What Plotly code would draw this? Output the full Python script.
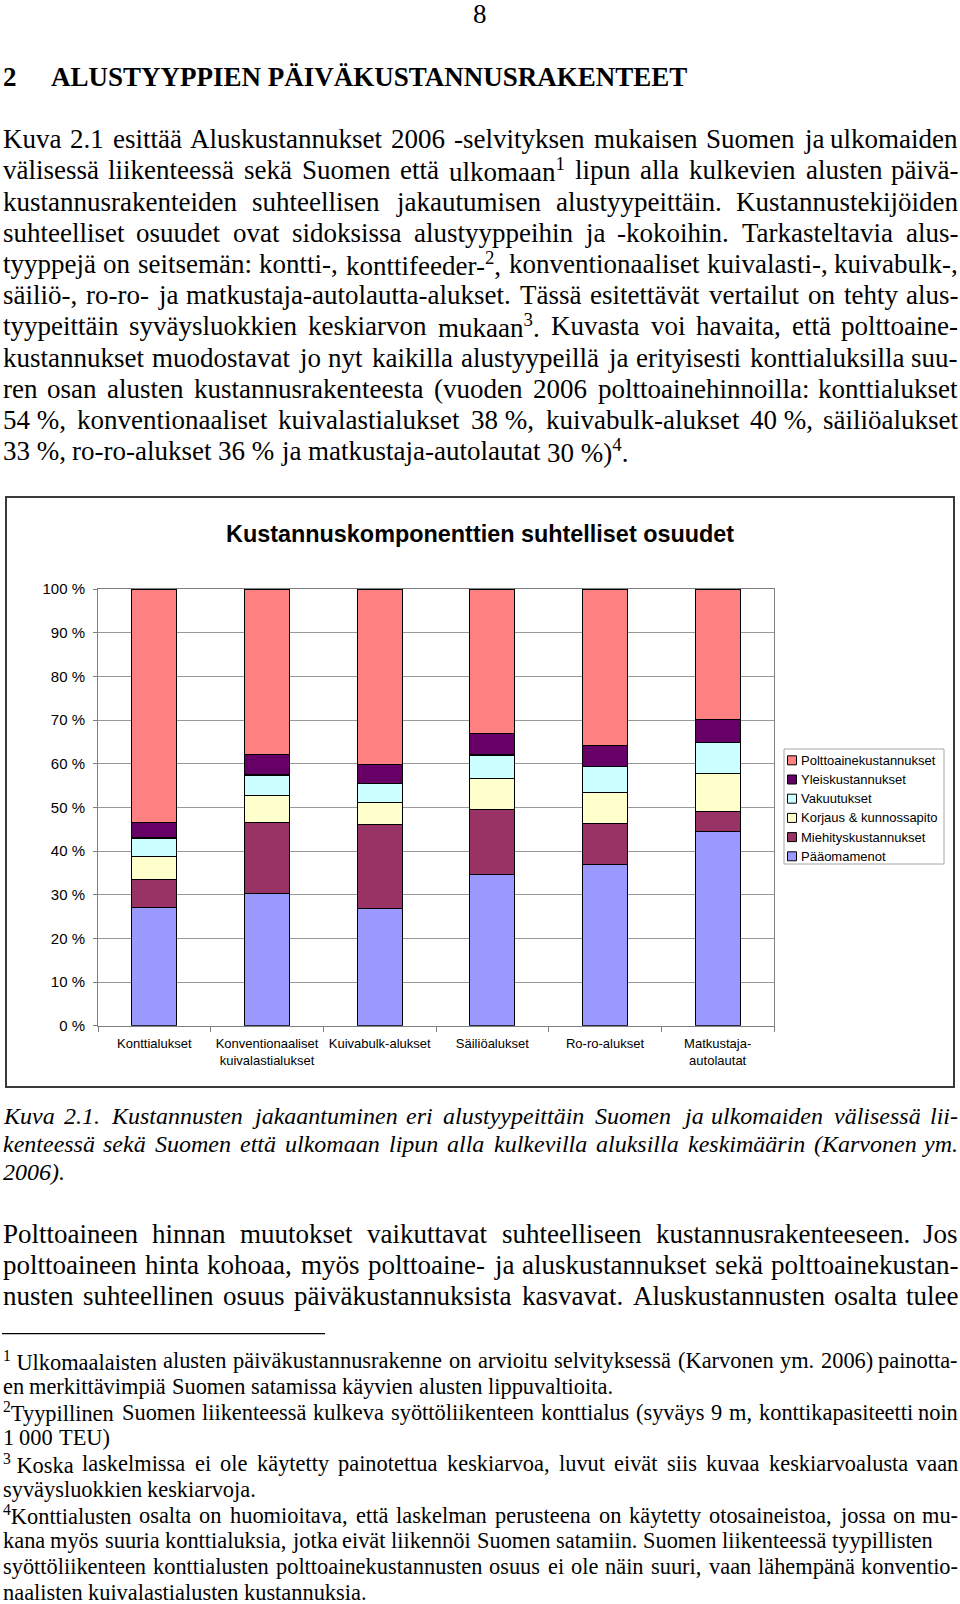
import re
import plotly.graph_objects as go

# ---------------- data ----------------
categories = ["Konttialukset", "Konventionaaliset<br>kuivalastialukset", "Kuivabulk-alukset",
              "Säiliöalukset", "Ro-ro-alukset", "Matkustaja-<br>autolautat"]
series_names = ["Pääomamenot", "Miehityskustannukset", "Korjaus & kunnossapito",
                "Vakuutukset", "Yleiskustannukset", "Polttoainekustannukset"]
series_colors = ["#9999FF", "#993366", "#FFFFCC", "#CCFFFF", "#660066", "#FF8080"]
paaoma = [27.0, 30.2, 26.8, 34.7, 37.0, 44.5]
miehitys = [6.5, 16.4, 19.2, 14.9, 9.3, 4.6]
korjaus = [5.2, 6.1, 5.2, 7.0, 7.1, 8.6]
vakuutus = [4.3, 4.7, 4.3, 5.4, 6.0, 7.2]
yleis = [3.5, 4.7, 4.4, 5.0, 4.8, 5.3]
polttoaine = [53.5, 37.9, 40.1, 33.0, 35.8, 29.8]
y_tick_vals = [0, 10, 20, 30, 40, 50, 60, 70, 80, 90, 100]
y_tick_text = ["0 %", "10 %", "20 %", "30 %", "40 %", "50 %", "60 %", "70 %", "80 %", "90 %", "100 %"]
chart_title = "Kustannuskomponenttien suhtelliset osuudet"

page_number = "8"
heading_num = "2"
heading_text = "ALUSTYYPPIEN PÄIVÄKUSTANNUSRAKENTEET"
NB = "\u00a0"
para1_lines = [
    "Kuva 2.1 esittää Aluskustannukset 2006 -selvityksen mukaisen Suomen ja ulkomaiden",
    "välisessä liikenteessä sekä Suomen että ulkomaan<sup>1</sup> lipun alla kulkevien alusten päivä-",
    "kustannusrakenteiden suhteellisen jakautumisen alustyypeittäin. Kustannustekijöiden",
    "suhteelliset osuudet ovat sidoksissa alustyyppeihin ja -kokoihin. Tarkasteltavia alus-",
    "tyyppejä on seitsemän: kontti-, konttifeeder-<sup>2</sup>, konventionaaliset kuivalasti-, kuivabulk-,",
    "säiliö-, ro-ro- ja matkustaja-autolautta-alukset. Tässä esitettävät vertailut on tehty alus-",
    "tyypeittäin syväysluokkien keskiarvon mukaan<sup>3</sup>. Kuvasta voi havaita, että polttoaine-",
    "kustannukset muodostavat jo nyt kaikilla alustyypeillä ja erityisesti konttialuksilla suu-",
    "ren osan alusten kustannusrakenteesta (vuoden 2006 polttoainehinnoilla: konttialukset",
    "54" + NB + "%, konventionaaliset kuivalastialukset 38" + NB + "%, kuivabulk-alukset 40" + NB + "%, säiliöalukset",
    "33" + NB + "%, ro-ro-alukset 36" + NB + "% ja matkustaja-autolautat 30" + NB + "%)<sup>4</sup>.",
]
para1_justify = [1, 1, 1, 1, 1, 1, 1, 1, 1, 1, 0]
caption_lines = [
    "Kuva 2.1. Kustannusten jakaantuminen eri alustyypeittäin Suomen ja ulkomaiden välisessä lii-",
    "kenteessä sekä Suomen että ulkomaan lipun alla kulkevilla aluksilla keskimäärin (Karvonen ym.",
    "2006).",
]
caption_justify = [1, 1, 0]
para2_lines = [
    "Polttoaineen hinnan muutokset vaikuttavat suhteelliseen kustannusrakenteeseen. Jos",
    "polttoaineen hinta kohoaa, myös polttoaine- ja aluskustannukset sekä polttoainekustan-",
    "nusten suhteellinen osuus päiväkustannuksista kasvavat. Aluskustannusten osalta tulee",
]
para2_justify = [1, 1, 1]
footnote_lines = [
    "<sup>1</sup>" + NB + "Ulkomaalaisten alusten päiväkustannusrakenne on arvioitu selvityksessä (Karvonen ym. 2006) painotta-",
    "en merkittävimpiä Suomen satamissa käyvien alusten lippuvaltioita.",
    "<sup>2</sup>Tyypillinen Suomen liikenteessä kulkeva syöttöliikenteen konttialus (syväys 9 m, konttikapasiteetti noin",
    "1 000 TEU)",
    "<sup>3</sup>" + NB + "Koska laskelmissa ei ole käytetty painotettua keskiarvoa, luvut eivät siis kuvaa keskiarvoalusta vaan",
    "syväysluokkien keskiarvoja.",
    "<sup>4</sup>Konttialusten osalta on huomioitava, että laskelman perusteena on käytetty otosaineistoa, jossa on mu-",
    "kana myös suuria konttialuksia, jotka eivät liikennöi Suomen satamiin. Suomen liikenteessä tyypillisten",
    "syöttöliikenteen konttialusten polttoainekustannusten osuus ei ole näin suuri, vaan lähempänä konventio-",
    "naalisten kuivalastialusten kustannuksia.",
]
footnote_justify = [1, 0, 1, 0, 1, 0, 1, 0, 1, 0]

# ---------------- helpers ----------------
W, H = 960, 1604


def PX(x):
    return x / W


def PY(y):
    return 1 - y / H


REG = {' ': 250, NB: 250, 'a': 444, 'b': 500, 'c': 444, 'd': 500, 'e': 444, 'f': 333, 'g': 500, 'h': 500,
       'i': 278, 'j': 278, 'k': 500, 'l': 278, 'm': 778, 'n': 500, 'o': 500, 'p': 500, 'q': 500, 'r': 333,
       's': 389, 't': 278, 'u': 500, 'v': 500, 'w': 722, 'x': 500, 'y': 500, 'z': 444, 'ä': 444, 'ö': 500,
       'A': 722, 'B': 667, 'C': 667, 'D': 722, 'E': 611, 'F': 556, 'G': 722, 'H': 722, 'I': 333, 'J': 389,
       'K': 722, 'L': 611, 'M': 889, 'N': 722, 'O': 722, 'P': 556, 'Q': 722, 'R': 667, 'S': 556, 'T': 611,
       'U': 722, 'V': 722, 'W': 944, 'X': 722, 'Y': 722, 'Z': 611, 'Ä': 722, 'Ö': 722,
       '.': 250, ',': 250, '-': 333, '%': 833, '(': 333, ')': 333, ':': 278, ';': 278, '&': 778}
ITA = {' ': 250, NB: 250, 'a': 500, 'b': 500, 'c': 444, 'd': 500, 'e': 444, 'f': 278, 'g': 500, 'h': 500,
       'i': 278, 'j': 278, 'k': 444, 'l': 278, 'm': 722, 'n': 500, 'o': 500, 'p': 500, 'q': 500, 'r': 389,
       's': 389, 't': 278, 'u': 500, 'v': 444, 'w': 667, 'x': 444, 'y': 444, 'z': 389, 'ä': 500, 'ö': 500,
       'A': 611, 'B': 611, 'C': 667, 'D': 722, 'E': 611, 'F': 611, 'G': 722, 'H': 722, 'I': 333, 'J': 444,
       'K': 667, 'L': 556, 'M': 833, 'N': 667, 'O': 722, 'P': 611, 'Q': 722, 'R': 611, 'S': 500, 'T': 556,
       'U': 722, 'V': 611, 'W': 833, 'X': 611, 'Y': 556, 'Z': 556,
       '.': 250, ',': 250, '-': 333, '%': 833, '(': 333, ')': 333, ':': 333}


def tok_width(tok, metrics):
    total = 0.0
    for part in re.split(r'(<sup>.*?</sup>)', tok):
        if part.startswith('<sup>'):
            total += 0.7 * sum(metrics.get(c, 500) for c in part[5:-6])
        else:
            total += sum(metrics.get(c, 500) for c in part)
    return total / 1000.0


annotations = []
SERIF = "Liberation Serif"


def place_line(line, y, size, metrics, justify, italic=False, x0=1.5, x1=958.5):
    words = line.split(' ')
    widths = [tok_width(w, metrics) * size for w in words]
    n = len(words)
    if justify and n > 1:
        gap = (x1 - x0 - sum(widths)) / (n - 1)
        gap = max(gap, 0.15 * size)
    else:
        gap = 0.25 * size
    x = x0
    for i, (w, wd) in enumerate(zip(words, widths)):
        txt = "<i>" + w + "</i>" if italic else w
        last = justify and n > 1 and i == n - 1
        annotations.append(dict(x=PX(x1 if last else x), y=PY(y), xref="paper", yref="paper", text=txt,
                                showarrow=False, xanchor="right" if last else "left", yanchor="middle",
                                font=dict(family=SERIF, size=size, color="black"), borderpad=0))
        x += wd + gap


# page number and heading
annotations.append(dict(x=PX(480), y=PY(14), xref="paper", yref="paper", text=page_number, showarrow=False,
                        xanchor="center", yanchor="middle", borderpad=0,
                        font=dict(family=SERIF, size=27, color="black")))
annotations.append(dict(x=PX(2), y=PY(77), xref="paper", yref="paper", text="<b>" + heading_num + "</b>",
                        showarrow=False, xanchor="left", yanchor="middle", borderpad=0,
                        font=dict(family=SERIF, size=27, color="black")))
annotations.append(dict(x=PX(50), y=PY(77), xref="paper", yref="paper", text="<b>" + heading_text + "</b>",
                        showarrow=False, xanchor="left", yanchor="middle", borderpad=0,
                        font=dict(family=SERIF, size=27, color="black")))

for i, (ln, j) in enumerate(zip(para1_lines, para1_justify)):
    place_line(ln, 139.2 + 31.2 * i, 27, REG, j)
for i, (ln, j) in enumerate(zip(caption_lines, caption_justify)):
    place_line(ln, 1116.0 + 28.1 * i, 24, ITA, j, italic=True)
for i, (ln, j) in enumerate(zip(para2_lines, para2_justify)):
    place_line(ln, 1233.5 + 31.2 * i, 27, REG, j)
for i, (ln, j) in enumerate(zip(footnote_lines, footnote_justify)):
    place_line(ln, 1360.8 + 25.72 * i, 22.4, REG, j)

# ---------------- chart ----------------
fig = go.Figure()
series_values = [paaoma, miehitys, korjaus, vakuutus, yleis, polttoaine]
for name, vals, col in zip(series_names, series_values, series_colors):
    fig.add_trace(go.Bar(x=categories, y=vals, name=name, showlegend=False,
                         marker=dict(color=col, line=dict(color="black", width=1.2))))

SANS = "Liberation Sans"
annotations.append(dict(x=PX(479.5), y=PY(534), xref="paper", yref="paper", text="<b>" + chart_title + "</b>",
                        showarrow=False, xanchor="center", yanchor="middle",
                        font=dict(family=SANS, size=23.4, color="black")))

shapes = []
shapes.append(dict(type="rect", xref="paper", yref="paper", x0=PX(6), x1=PX(954), y0=PY(1087), y1=PY(497),
                   line=dict(color="#3a3a3a", width=2), layer="below"))
shapes.append(dict(type="line", xref="paper", yref="paper", x0=PX(2), x1=PX(325), y0=PY(1333.6),
                   y1=PY(1333.6), line=dict(color="black", width=1.2)))

# legend (manual, built from the series lists; top entry = top of stack)
shapes.append(dict(type="rect", xref="paper", yref="paper", x0=PX(784), x1=PX(944), y0=PY(864), y1=PY(749),
                   line=dict(color="#a6a6a6", width=1), fillcolor="white"))
for k, (name, col) in enumerate(zip(reversed(series_names), reversed(series_colors))):
    yc = 760.3 + 19.2 * k
    shapes.append(dict(type="rect", xref="paper", yref="paper", x0=PX(787.5), x1=PX(796.5),
                       y0=PY(yc + 4.5), y1=PY(yc - 4.5), line=dict(color="black", width=1), fillcolor=col))
    annotations.append(dict(x=PX(799.5), y=PY(yc), xref="paper", yref="paper", text=name, showarrow=False,
                            xanchor="left", yanchor="middle", borderpad=0,
                            font=dict(family=SANS, size=13, color="black")))

fig.update_layout(
    width=W, height=H, margin=dict(l=0, r=0, t=0, b=0, autoexpand=False),
    paper_bgcolor="white", plot_bgcolor="white",
    barmode="stack", bargap=0.6, showlegend=False,
    xaxis=dict(domain=[PX(98), PX(774)], type="category", showgrid=False, showline=True,
               linecolor="#808080", linewidth=1, mirror=True, ticks="outside", tickson="boundaries",
               ticklen=5, tickcolor="#808080", tickfont=dict(family=SANS, size=13, color="black"),
               ticklabelstandoff=6, fixedrange=True, automargin=False),
    yaxis=dict(domain=[PY(1025.7), PY(589)], range=[0, 100], tickmode="array", tickvals=y_tick_vals,
               ticktext=y_tick_text, showgrid=True, gridcolor="#999999", gridwidth=1, zeroline=False,
               showline=True, linecolor="#808080", linewidth=1, mirror=True, ticks="outside", ticklen=4,
               ticklabelstandoff=5, tickcolor="#808080", tickfont=dict(family=SANS, size=15, color="black"),
               fixedrange=True, automargin=False),
    annotations=annotations, shapes=shapes,
)

fig.write_html("out.html", config={"displayModeBar": False, "responsive": False},
               post_script="document.body.style.margin='0';document.body.style.overflow='hidden';")
